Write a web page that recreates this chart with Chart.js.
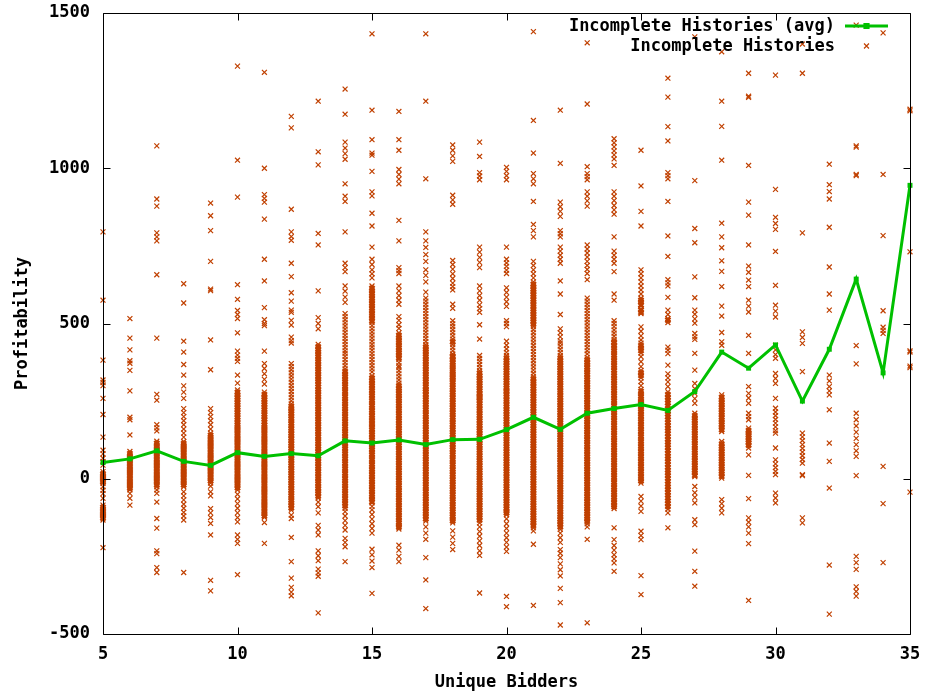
<!DOCTYPE html>
<html>
<head>
<meta charset="utf-8">
<title>Incomplete Histories: profitability by unique bidders</title>
<script src="https://cdn.jsdelivr.net/npm/chart.js@4.4.1/dist/chart.umd.min.js"></script>
<style>
  html, body { margin: 0; padding: 0; background: #ffffff; }
  #wrap { width: 927px; height: 696px; }
</style>
</head>
<body>
<div id="wrap"><canvas id="c" width="927" height="696"></canvas></div>
<script>
// Number of unique bidders (x axis)
const bidders = [5, 6, 7, 8, 9, 10, 11, 12, 13, 14, 15, 16, 17, 18, 19, 20,
                 21, 22, 23, 24, 25, 26, 27, 28, 29, 30, 31, 32, 33, 34, 35];

// Average profitability per bidder count
const avgProfit = [52, 64, 90, 56, 43, 84, 72, 81, 74, 122, 115, 125, 110, 126, 127, 158,
                   198, 159, 211, 226, 239, 220, 281, 408, 356, 431, 250, 417, 643, 341, 945];

// Individual auction profitability, one list per bidder count
const p05 = [795, 575, 382, 318, 310, 300, 259, 207, 134, 92, 80, 66, 55, 44,
             23, 16, 9, 2, -5, -10, -15, -26, -37, -48, -63,
             -85, -92, -99, -106, -113, -120, -127, -133, -222];
const p06 = [516, 453, 415, 380, 372, 349, 283, 198, 190, 141,
             88, 81, 74, 67, 60, 53, 46, 39, 32, 25, 18, 11, 4, -3, -10, -17, -24, -30, -36,
             -47, -63, -85];
const p07 = [1072, 901, 878, 792, 779, 766, 657, 453, 272, 253, 174, 164, 154,
             121, 114, 107, 100, 93, 86, 79, 72, 65, 58, 51, 44, 37, 30, 23, 16, 9, 2, -5, -12, -19, -26,
             -36, -47, -75, -128, -159, -232, -241, -286, -302];
const p08 = [628, 566, 443, 408, 368, 334, 299, 279, 259, 226, 213, 200, 187, 174, 160, 147, 134,
             120, 113, 106, 99, 92, 85, 78, 71, 64, 57, 50, 43, 36, 29, 22, 15, 8, 1, -6, -13, -20, -26,
             -42, -55, -68, -82, -95, -108, -120, -133, -302];
const p09 = [888, 847, 799, 700, 611, 606, 447, 351, 226, 213, 200, 187, 174, 160,
             147, 140, 133, 126, 119, 112, 105, 98, 91, 84, 77, 70, 63, 56, 49, 42, 35, 28, 21, 14, 7, 0, -7, -14, -24,
             -42, -55, -96, -110, -125, -144, -181, -327, -361];
const p10 = [1329, 1026, 907, 625, 578, 542, 529, 516, 470, 411, 398, 388, 378, 334, 308,
             286, 278, 270, 262, 254, 246, 238, 230, 222, 214, 206, 198, 190, 182, 174, 167,
             160, 153, 146, 139, 132, 125, 118, 111, 104, 97, 90, 83, 76, 69, 62, 55, 48, 41, 34, 27, 20, 13, 6,
             -1, -8, -15, -22, -29, -36,
             -50, -65, -80, -95, -110, -125, -139, -181, -195, -208, -309];
const p11 = [1309, 1000, 915, 903, 891, 836, 707, 637, 551, 512, 500, 493, 411, 371, 355, 338, 320, 305,
             279, 271, 263, 255, 247, 239, 231, 223, 215, 207, 199, 191, 183,
             174, 167, 160, 153, 146, 139, 132, 125, 118, 111, 104, 97, 90, 83, 76, 69, 62, 55, 48, 41, 34, 27,
             20, 13, 6, -1, -8, -15, -22, -29, -36, -43, -50, -57, -64, -71, -78, -85, -92, -99, -106, -113,
             -120, -124, -141, -208];
const p12 = [1167, 1130, 868, 795, 780, 768, 694, 651, 599, 572, 543, 536, 510, 495, 456, 445, 437,
             371, 361, 351, 341, 331, 321, 311, 301, 291, 281, 271, 261, 251, 241, 233,
             226, 218, 210, 202, 194, 186, 178, 170, 162, 154, 146, 138, 130, 122, 114, 106, 98, 90, 82, 74,
             66, 58, 50, 42, 34, 26, 18, 10, 2, -6, -14, -22, -30, -38, -46, -54, -62, -70, -78, -86, -94, -101,
             -117, -128, -189, -267, -320, -350, -365, -377];
const p13 = [1216, 1053, 1011, 790, 753, 605, 519, 500, 483,
             433, 425, 417, 409, 401, 393, 385, 377, 369, 361, 353, 345, 337, 329, 321, 313, 305,
             296, 288, 280, 272, 264, 256, 248, 240, 232, 224, 216, 208, 200, 192, 184, 176, 168, 160, 152,
             144, 136, 128, 120, 112, 104, 96, 88, 80, 72, 64, 56, 48, 40, 32, 24, 16, 8, 0, -8, -16, -24,
             -32, -40, -48, -56, -62, -75, -90, -110, -150, -165, -181, -232, -248, -264, -291, -303, -314, -432];
const p14 = [1255, 1174, 1084, 1065, 1047, 1029, 950, 910, 893, 795, 694, 680, 667, 621, 604, 585, 568,
             532, 522, 512, 502, 492, 482, 472, 462, 452, 442, 432, 422, 412, 404, 394, 384, 374, 364, 354,
             345, 337, 329, 321, 313, 305, 297, 289, 281, 273, 265, 257, 249, 241, 233, 225, 217, 209, 201,
             193, 185, 177, 169, 161, 153, 145, 137, 129, 121, 113, 105, 97, 89, 81, 73, 65, 57, 49, 41, 33,
             25, 17, 9, 1, -7, -15, -23, -31, -39, -47, -55, -63, -71, -79, -87, -95,
             -106, -120, -135, -150, -165, -192, -205, -219, -267];
const p15 = [1433, 1187, 1092, 1049, 1042, 990, 924, 911, 855, 814, 746, 707, 690, 673, 660, 647,
             621, 613, 605, 597, 589, 581, 573, 565, 557, 549, 541, 533, 525, 517, 509, 503,
             493, 483, 473, 463, 453, 443, 433, 424, 414, 404, 394, 384, 374, 364, 354, 344,
             332, 324, 316, 308, 300, 292, 284, 276, 268, 260, 252, 244, 236, 228, 220, 212, 204, 196, 188, 181,
             174, 166, 158, 150, 142, 134, 126, 118, 110, 102, 94, 86, 78, 70, 62, 54, 46, 38, 30, 22, 14, 6,
             -2, -10, -18, -26, -34, -42, -50, -58, -66, -74, -78,
             -89, -100, -115, -130, -145, -160, -175, -227, -245, -265, -286, -369];
const p16 = [1183, 1092, 1058, 996, 980, 965, 950, 832, 766, 680, 670, 661, 621, 605, 590, 575, 562,
             522, 510, 496, 484,
             470, 462, 454, 446, 438, 430, 422, 414, 406, 398, 390, 384, 374, 364, 358, 348, 338, 328, 318, 308,
             299, 291, 283, 275, 267, 259, 251, 243, 235, 227, 219, 211, 203, 195, 187, 179, 171, 163, 155,
             147, 139, 131, 123, 115, 107, 99, 91, 83, 75, 67, 59, 51, 43, 35, 27, 19, 11, 3, -5, -13, -21,
             -29, -37, -45, -53, -61, -69, -77, -85, -93, -101, -109, -117, -125, -133, -141, -149, -156, -162,
             -214, -230, -250, -267];
const p17 = [1433, 1216, 966, 795, 766, 745, 722, 700, 673, 655, 634, 601,
             582, 572, 562, 552, 542, 532, 522, 512, 502, 492, 482, 472, 462, 452, 442, 432, 424,
             417, 409, 401, 393, 385, 377, 369, 361, 353, 345, 337, 329, 321, 313, 305, 297, 289, 284,
             279, 271, 263, 255, 247, 239, 231, 223, 215, 207, 199, 191, 183, 175, 167, 159, 151, 143, 135,
             127, 119, 111, 103, 95, 87, 79, 71, 63, 55, 47, 39, 31, 23, 15, 7, -1, -9, -17, -25, -33, -41,
             -49, -57, -65, -73, -81, -89, -97, -105, -113, -121, -129, -136,
             -155, -175, -195, -254, -326, -418];
const p18 = [1075, 1058, 1040, 1022, 913, 898, 884, 703, 690, 675, 660, 645, 630, 619, 608, 562, 549,
             509, 499, 490, 480, 470, 460, 450, 441, 432, 422, 412, 402, 395,
             391, 383, 375, 367, 360, 352, 345, 337, 330, 324,
             318, 310, 302, 294, 286, 278, 270, 262, 254, 246, 238, 230, 222, 214, 206, 198, 190, 182, 174,
             166, 158, 150, 142, 134, 126, 118, 110, 102, 94, 86, 78, 70, 62, 54, 46, 38, 30, 22, 14, 6, -2,
             -10, -18, -26, -34, -42, -50, -58, -66, -74, -82, -90, -98, -106, -114, -122, -130, -136, -142,
             -168, -188, -208, -228];
const p19 = [1084, 1038, 986, 975, 963, 746, 730, 713, 697, 680, 621, 605, 590, 575, 560, 548, 536,
             496, 450, 397, 388, 378, 368, 358, 348, 340,
             332, 324, 316, 308, 300, 292, 284, 276, 268, 263,
             259, 251, 243, 235, 227, 219, 211, 203, 195, 187, 179, 171, 163, 155, 147, 139, 131, 123, 115,
             107, 99, 91, 83, 75, 67, 59, 51, 43, 35, 27, 19, 11, 3, -5, -13, -21, -29, -37, -45, -53, -61,
             -69, -77, -85, -93, -101, -109, -117, -125, -133, -142,
             -155, -170, -185, -200, -215, -232, -247, -368];
const p20 = [1003, 990, 976, 963, 746, 707, 695, 684, 672, 661, 615, 600, 585, 570, 555, 509, 500, 490,
             443, 430, 418, 407, 397, 389, 381, 373, 365, 357, 349, 341, 333, 325, 317, 309, 301, 293, 285, 279,
             272, 264, 256, 248, 240, 232, 224, 216, 208, 200, 192, 184, 176, 168, 160, 152, 144, 136, 128,
             120, 112, 104, 96, 88, 80, 72, 64, 56, 48, 40, 32, 24, 16, 8, 0, -8, -16, -24, -32, -40, -48,
             -56, -64, -72, -80, -88, -96, -104, -110, -116,
             -129, -145, -160, -175, -190, -205, -220, -234, -379, -412];
const p21 = [1440, 1154, 1049, 983, 966, 950, 893, 819, 799, 779, 700, 687, 673, 660, 647,
             634, 626, 618, 610, 602, 594, 586, 578, 570, 562, 554, 546, 538, 530, 522, 514, 506, 498, 490,
             480, 470, 460, 450, 440, 430, 420, 410, 400, 390, 380, 370, 360, 350, 340,
             330, 322, 314, 306, 298, 290, 282, 274, 266, 258, 250, 242, 234, 226, 218, 210, 202, 194, 186,
             178, 170, 162, 154, 146, 138, 130, 122, 114, 106, 98, 90, 82, 74, 66, 58, 50, 42, 34, 26, 18,
             10, 2, -6, -14, -22, -30, -38, -46, -54, -62, -70, -78, -86, -94, -102, -110, -118, -126, -134,
             -142, -150, -158, -168, -211, -408];
const p22 = [1187, 1016, 891, 876, 861, 845, 799, 789, 779, 746, 733, 720, 707, 694, 637, 595, 529,
             483, 470, 457, 444, 437, 427, 417, 407,
             397, 389, 381, 373, 365, 357, 349, 341, 333, 325, 317, 309, 301, 293, 285, 277, 269, 261, 253,
             245, 237, 229, 221,
             213, 205, 197, 189, 181, 173, 165, 157, 149, 141, 133, 125, 117, 109, 101, 93, 85, 77, 69, 61,
             53, 45, 37, 29, 21, 13, 5, -3, -11, -19, -27, -35, -43, -51, -59, -67, -75, -83, -91, -99, -107,
             -115, -123, -131, -139, -147, -155, -163, -175,
             -190, -205, -228, -240, -254, -274, -293, -313, -353, -399, -471];
const p23 = [1404, 1207, 1005, 983, 973, 963, 924, 910, 895, 878, 753, 740, 727, 714, 700, 687, 674, 661,
             641, 582, 572, 562, 552, 542, 532, 522, 512, 502, 492, 482, 472, 462, 452, 442, 432, 422, 412, 402,
             391, 383, 375, 367, 359, 351, 343, 335, 327, 319, 311, 303, 295, 287,
             279, 271, 263, 255, 247, 239, 231, 223, 215, 207, 199, 191, 183, 175, 167, 159, 151, 143, 135,
             127, 119, 111, 103, 95, 87, 79, 71, 63, 55, 47, 39, 31, 23, 15, 7, -1, -9, -17, -25, -33, -41,
             -49, -57, -65, -73, -81, -89, -97, -105, -113, -121, -129, -137, -145, -155, -195, -464];
const p24 = [1095, 1082, 1069, 1056, 1043, 1030, 1009, 924, 910, 896, 880, 866, 852, 779, 733, 720, 707,
             694, 667, 595, 575, 509, 500, 490, 479, 469, 459, 449, 441,
             437, 429, 421, 413, 405, 397, 389, 381, 373, 365, 357, 349,
             340, 332, 324, 316, 308, 300, 292, 284, 276, 268, 260, 252, 244, 236, 228, 220, 212, 204, 196,
             188, 180, 172, 164, 156, 148, 140, 132, 124, 116, 108, 100, 92, 84, 76, 68, 60, 52, 44, 36, 28,
             20, 12, 4, -4, -12, -20, -28, -36, -44, -52, -60, -68, -76, -84, -90, -96,
             -158, -196, -215, -230, -245, -258, -271, -298];
const p25 = [1058, 943, 861, 814, 673, 660, 647, 634, 621, 608, 595, 582, 575, 569, 560, 556, 545, 543,
             536, 532, 489, 475, 460, 447,
             437, 429, 421, 413, 405, 393, 377, 361, 349, 341, 333, 325, 313, 300, 288, 281, 273, 265, 257, 249, 243,
             240, 232, 224, 216, 208, 200, 192, 184, 176, 168, 160, 152, 144, 136, 128, 120, 112, 104, 96,
             88, 80, 72, 64, 56, 48, 40, 32, 24, 16, 8, 0, -7, -14,
             -57, -72, -88, -105, -169, -183, -196, -312, -373];
const p26 = [1290, 1229, 1134, 1088, 986, 976, 966, 893, 782, 716, 641, 631, 621, 584, 543, 529, 516, 511,
             503, 424, 414, 403, 366, 338, 325, 312, 297,
             280, 271, 262, 253, 244, 235, 226, 217, 208, 199, 190, 181, 172, 163, 154, 145, 136, 127, 118,
             109, 100, 91, 82, 73, 64, 55, 46, 37, 28, 19, 10, 1, -8, -17, -26, -35, -44, -53, -62, -71,
             -80, -89, -98, -110, -158];
const p27 = [1423, 960, 806, 760, 650, 583, 543, 530, 515, 501, 468, 457, 449, 404, 350, 307, 290, 275,
             258, 243, 211, 203, 195, 187, 179, 171, 163, 155, 147, 139, 131, 123, 115, 107, 99, 91, 83,
             75, 67, 59, 51, 43, 35, 27, 19, 11, 7,
             -25, -45, -60, -78, -132, -148, -233, -298, -346];
const p28 = [1375, 1216, 1135, 1026, 823, 779, 744, 702, 668, 619, 556, 524, 471, 441, 430,
             270, 262, 254, 246, 238, 230, 222, 214, 206, 198, 190, 182, 174, 166, 158, 152,
             120, 112, 104, 96, 88, 80, 72, 64, 56, 48, 40, 32, 24, 16, 8, 2,
             -67, -80, -95, -110];
const p29 = [1306, 1232, 1228, 1009, 891, 849, 753, 685, 665, 640, 619, 575, 556, 537, 462, 404,
             297, 275, 260, 243, 211, 200, 190, 163, 155, 147, 140, 132, 124, 116, 108, 99, 77, 11,
             -64, -126, -140, -155, -175, -209, -392];
const p30 = [1300, 932, 842, 822, 803, 732, 623, 559, 540, 521, 430, 415, 400, 388, 339, 323, 307, 259,
             227, 215, 203, 191, 179, 167, 155, 147, 99, 61, 48, 36, 24, 13, -46, -62, -78];
const p31 = [1400, 1306, 792, 473, 455, 436, 345, 147, 135, 123, 110, 98, 86, 74, 62, 50, 13, 10,
             -126, -142];
const p32 = [1013, 947, 925, 901, 810, 682, 595, 543, 334, 315, 297, 283, 270, 222, 115, 56, -30,
             -278, -436];
const p33 = [1461, 1072, 1068, 980, 976, 429, 370, 211, 190, 170, 150, 130, 110, 90, 72, 10,
             -250, -270, -292, -348, -363, -378];
const p34 = [1436, 980, 783, 541, 488, 478, 468, 40, -80, -270];
const p35 = [1190, 1185, 731, 412, 408, 363, 358, -43];

// Axis ticks
const xTicks = [5, 10, 15, 20, 25, 30, 35];
const yTicks = [-500, 0, 500, 1000, 1500];

const perBidder = [p05, p06, p07, p08, p09, p10, p11, p12, p13, p14, p15, p16, p17, p18, p19, p20,
                   p21, p22, p23, p24, p25, p26, p27, p28, p29, p30, p31, p32, p33, p34, p35];

const avgPoints = bidders.map((b, i) => ({ x: b, y: avgProfit[i] }));
const histPoints = [];
bidders.forEach((b, i) => perBidder[i].forEach(v => histPoints.push({ x: b, y: v })));

// Overplotted runs of crosses read as a solid strip: points with close
// neighbours both above and below get a heavier stroke.
function crossWeight(ctx) {
  const p = ctx.raw;
  if (!p) return 1.2;
  const col = perBidder[bidders.indexOf(p.x)];
  let up = false, down = false;
  for (const v of col) {
    const d = v - p.y;
    if (d > 0 && d <= 9) up = true;
    if (d < 0 && d >= -9) down = true;
  }
  return (up && down) ? 2.4 : 1.2;
}

const GREEN = '#00c000';
const ORANGE = '#c04000';
const FONT = { family: "'DejaVu Sans Mono', 'Liberation Mono', monospace", size: 17, weight: 'bold' };

// Plot frame with gnuplot-style inward ticks on all four sides
const frameTicks = {
  id: 'frameTicks',
  afterDraw(chart) {
    const { ctx, chartArea: a, scales } = chart;
    const L = 7;
    ctx.save();
    ctx.strokeStyle = '#000';
    ctx.lineWidth = 1;
    const l = Math.round(a.left) + 0.5, r = Math.round(a.right) + 0.5;
    const t = Math.round(a.top) + 0.5, b = Math.round(a.bottom) + 0.5;
    ctx.beginPath();
    ctx.rect(l, t, r - l, b - t);
    scales.x.ticks.forEach(tk => {
      const px = Math.round(scales.x.getPixelForValue(tk.value)) + 0.5;
      ctx.moveTo(px, b); ctx.lineTo(px, b - L);
      ctx.moveTo(px, t); ctx.lineTo(px, t + L);
    });
    scales.y.ticks.forEach(tk => {
      const py = Math.round(scales.y.getPixelForValue(tk.value)) + 0.5;
      ctx.moveTo(l, py); ctx.lineTo(l + L, py);
      ctx.moveTo(r, py); ctx.lineTo(r - L, py);
    });
    ctx.stroke();
    ctx.restore();
  }
};

// Key in the top-right corner: right-aligned title, then the line/point sample
const cornerKey = {
  id: 'cornerKey',
  afterDatasetsDraw(chart) {
    const { ctx, chartArea: a } = chart;
    const textRight = a.right - 75;
    const s0 = a.right - 65, s1 = a.right - 22, sc = (s0 + s1) / 2;
    ctx.save();
    ctx.font = `${FONT.weight} ${FONT.size}px ${FONT.family}`;
    ctx.textAlign = 'right';
    ctx.textBaseline = 'middle';
    chart.data.datasets.forEach((ds, i) => {
      const y = a.top + 13 + i * 20;
      ctx.fillStyle = '#000';
      ctx.fillText(ds.label, textRight, y + 1);
      ctx.strokeStyle = ds.borderColor;
      ctx.fillStyle = ds.pointBackgroundColor || ds.borderColor;
      if (ds.showLine) {
        ctx.lineWidth = ds.borderWidth;
        ctx.beginPath();
        ctx.moveTo(s0, y); ctx.lineTo(s1, y);
        ctx.stroke();
      }
      ctx.lineWidth = 1.2;
      Chart.helpers.drawPoint(ctx, {
        pointStyle: ds.pointStyle, radius: ds.pointRadius, rotation: 0, borderWidth: 1.2
      }, sc, y);
    });
    ctx.restore();
  }
};

Chart.defaults.font = FONT;
Chart.defaults.color = '#000';

new Chart(document.getElementById('c'), {
  type: 'scatter',
  data: {
    datasets: [
      {
        label: 'Incomplete Histories (avg)',
        data: avgPoints,
        showLine: true,
        borderColor: GREEN,
        backgroundColor: GREEN,
        pointBackgroundColor: GREEN,
        borderWidth: 3,
        pointStyle: 'rect',
        pointRadius: 3.5,
        pointBorderWidth: 0,
        clip: false
      },
      {
        label: 'Incomplete Histories',
        data: histPoints,
        showLine: false,
        borderColor: ORANGE,
        backgroundColor: ORANGE,
        pointStyle: 'crossRot',
        pointRadius: 3.5,
        pointBorderWidth: crossWeight,
        clip: false
      }
    ]
  },
  options: {
    responsive: false,
    animation: false,
    events: [],
    layout: { padding: { left: 0, right: 17, top: 13, bottom: 0 } },
    plugins: { legend: { display: false }, tooltip: { enabled: false } },
    scales: {
      x: {
        type: 'linear',
        min: 5, max: 35,
        afterBuildTicks: s => { s.ticks = xTicks.map(v => ({ value: v })); },
        afterFit: s => { s.height = 62; s.paddingLeft = 0; s.paddingRight = 0; },
        grid: { display: false, drawTicks: false },
        border: { display: false },
        ticks: { padding: 10, maxRotation: 0, autoSkip: false, callback: v => String(v) },
        title: { display: true, text: 'Unique Bidders', padding: { top: 0, bottom: 3 } }
      },
      y: {
        type: 'linear',
        min: -500, max: 1500,
        afterBuildTicks: s => { s.ticks = yTicks.map(v => ({ value: v })); },
        afterFit: s => { s.width = 103; s.paddingTop = 0; s.paddingBottom = 0; },
        grid: { display: false, drawTicks: false },
        border: { display: false },
        ticks: { padding: 13, autoSkip: false, callback: v => String(v) },
        title: { display: true, text: 'Profitability', padding: { top: 12, bottom: 0 } }
      }
    }
  },
  plugins: [frameTicks, cornerKey]
});
</script>
</body>
</html>
